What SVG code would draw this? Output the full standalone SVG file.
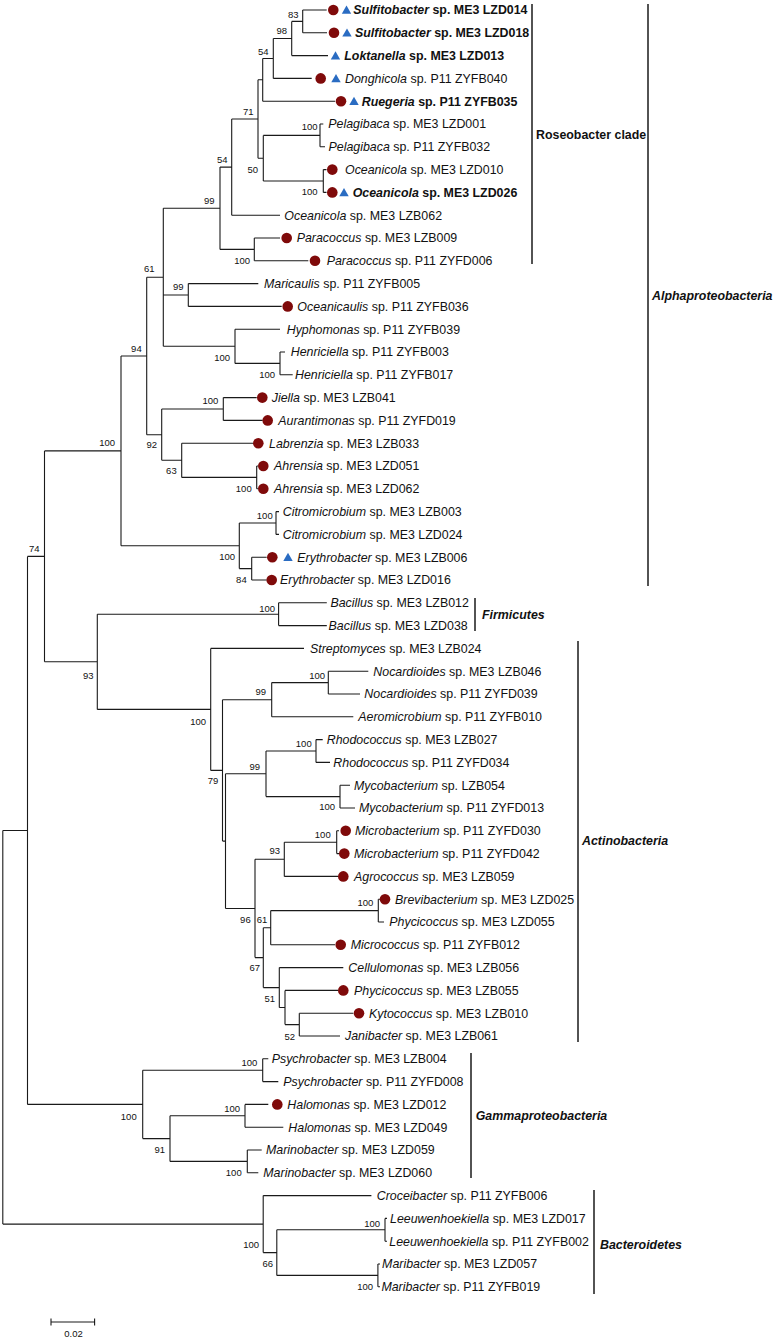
<svg xmlns="http://www.w3.org/2000/svg" xmlns:xlink="http://www.w3.org/1999/xlink" width="774" height="1339" viewBox="0 0 774 1339">
<defs>
<circle id="dot" r="5.3" fill="#7f0a0a"/>
<path id="tri" d="M0,-4.4 L4.7,3.8 L-4.7,3.8Z" fill="#2a6cc2"/>
</defs>
<style>
.br{fill:none;stroke:#1a1a1a;stroke-width:1.1}
.bar{fill:none;stroke:#1a1a1a;stroke-width:1.5}
text{font-family:"Liberation Sans",Arial,Helvetica,sans-serif;fill:#111}
.lf{font-size:12.4px}
.b{font-weight:bold}
.i{font-style:italic}
.bs{font-size:9.5px;text-anchor:end}
.cl{font-size:12.4px;font-weight:bold}
</style>
<rect width="774" height="1339" fill="#fff"/>
<g id="connectors" class="br">
<path d="M2.8,830.5V1224.1 M2.8,830.5H27.5 M27.5,556.4V1104.4 M27.5,556.4H44.5 M44.5,450.9V661.8 M44.5,450.9H121 M121,356V545.8 M121,356H146.7 M146.7,277.3V434.7 M146.7,277.3H163.3 M163.3,208.3V346.3 M163.3,208.3H220 M220,167.1V249.4 M220,167.1H231.7 M231.7,119V215.2 M231.7,119H258 M258,79.8V158.2 M258,79.8H262.7 M262.7,58.5V101.2 M262.7,58.5H273.3 M273.3,38.5V78.4 M273.3,38.5H291.7 M291.7,21.4V55.6 M291.7,21.4H302.7 M302.7,10V32.8 M258,158.2H263.3 M263.3,135.4V181 M263.3,135.4H320 M320,124V146.8 M263.3,181H323.3 M323.3,169.6V192.4 M220,249.4H254.3 M254.3,238V260.8 M163.3,295H188.3 M188.3,283.6V306.4 M163.3,346.3H235 M235,329.2V363.4 M235,363.4H280 M280,352V374.8 M146.7,434.7H161.7 M161.7,409V460.3 M161.7,409H223.3 M223.3,397.6V420.4 M161.7,460.3H181.7 M181.7,443.2V477.4 M181.7,477.4H256.7 M256.7,466V488.8 M121,545.8H239.3 M239.3,523V568.6 M239.3,523H276 M276,511.6V534.4 M239.3,568.6H251.7 M251.7,557.2V580"/>
<path d="M44.5,661.8H97.3 M97.3,614.2V709.4 M97.3,614.2H278.6 M278.6,602.8V625.6 M97.3,709.4H210.7 M210.7,648.4V770.4 M210.7,770.4H222.5 M222.5,699.7V841.1 M222.5,699.7H271.7 M271.7,682.6V716.8 M271.7,682.6H328.3 M328.3,671.2V694 M222.5,841.1H225.5 M225.5,773.8V908.5 M225.5,773.8H266 M266,751V796.6 M266,751H316 M316,739.6V762.4 M266,796.6H340 M340,785.2V808 M225.5,908.5H255 M255,859.3V957.6 M255,859.3H284.3 M284.3,842.2V876.4 M284.3,842.2H336.7 M336.7,830.8V853.6 M255,957.6H263.3 M263.3,927.7V987.6 M263.3,927.7H270.7 M270.7,910.6V944.8 M270.7,910.6H378.3 M378.3,899.2V922 M263.3,987.6H279.3 M279.3,967.6V1007.5 M279.3,1007.5H285 M285,990.4V1024.6 M285,1024.6H299.3 M299.3,1013.2V1036"/>
<path d="M27.5,1104.4H142.7 M142.7,1070.2V1138.6 M142.7,1070.2H262.7 M262.7,1058.8V1081.6 M142.7,1138.6H170 M170,1115.8V1161.4 M170,1115.8H245 M245,1104.4V1127.2 M170,1161.4H247.3 M247.3,1150V1172.8 M2.8,1224.1H263.2 M263.2,1195.6V1252.6 M263.2,1252.6H276.8 M276.8,1229.8V1275.4 M276.8,1229.8H385 M385,1218.4V1241.2 M276.8,1275.4H377.9 M377.9,1264V1286.8"/>
<path d="M302.7,10H326.7 M302.7,32.8H327 M291.7,55.6H328 M273.3,78.4H311.7 M262.7,101.2H335 M320,124H323.3 M320,146.8H325 M323.3,169.6H326.5 M323.3,192.4H326.5 M231.7,215.2H280 M254.3,238H280 M254.3,260.8H308.3 M188.3,283.6H258.3 M188.3,306.4H281.7 M235,329.2H280 M280,352H285 M280,374.8H292.7 M223.3,397.6H256.7 M223.3,420.4H262.7 M181.7,443.2H253.3 M256.7,466H258 M256.7,488.8H258 M276,511.6H279 M276,534.4H279 M251.7,557.2H266.7 M251.7,580H266.7"/>
<path d="M278.6,602.8H326.8 M278.6,625.6H326.8 M210.7,648.4H304 M328.3,671.2H368.3 M328.3,694H360 M271.7,716.8H353.3 M316,739.6H322.7 M316,762.4H330 M340,785.2H350 M340,808H355 M336.7,830.8H339 M336.7,853.6H339 M284.3,876.4H338.3 M378.3,899.2H380 M378.3,922H384 M270.7,944.8H335 M279.3,967.6H343.3 M285,990.4H338.3 M299.3,1013.2H353.3 M299.3,1036H340 M262.7,1058.8H268.3 M262.7,1081.6H278.3 M245,1104.4H268.3 M245,1127.2H283.3 M247.3,1150H261.7 M247.3,1172.8H258.3 M263.2,1195.6H371.4 M385,1218.4H387 M385,1241.2H387 M377.9,1264H380 M377.9,1286.8H380"/>
</g>
<g id="bootstrap" class="bs">
<text x="298.5" y="17.5">83</text>
<text x="287" y="34">98</text>
<text x="268.5" y="55">54</text>
<text x="253.5" y="115">71</text>
<text x="317.5" y="130">100</text>
<text x="258" y="172.5">50</text>
<text x="317.5" y="195">100</text>
<text x="227.5" y="162.5">54</text>
<text x="214.5" y="203.5">99</text>
<text x="250" y="263.5">100</text>
<text x="154.5" y="271.5">61</text>
<text x="183.5" y="290">99</text>
<text x="141.7" y="351.7">94</text>
<text x="230" y="360.5">100</text>
<text x="275" y="377.5">100</text>
<text x="218.3" y="403.5">100</text>
<text x="115" y="445.5">100</text>
<text x="157" y="447.5">92</text>
<text x="176.7" y="474">63</text>
<text x="251.7" y="491.5">100</text>
<text x="272.7" y="518.5">100</text>
<text x="39.5" y="552">74</text>
<text x="235" y="560">100</text>
<text x="246.7" y="582.5">84</text>
<text x="275" y="611.5">100</text>
<text x="93.6" y="679">93</text>
<text x="325" y="678.5">100</text>
<text x="266" y="695">99</text>
<text x="206" y="724.5">100</text>
<text x="311.7" y="746.8">100</text>
<text x="260" y="769.5">99</text>
<text x="218.3" y="784">79</text>
<text x="335" y="810">100</text>
<text x="330.7" y="837.5">100</text>
<text x="280" y="854">93</text>
<text x="373.3" y="906">100</text>
<text x="250.7" y="922.8">96</text>
<text x="267.3" y="922.8">61</text>
<text x="260" y="970.8">67</text>
<text x="275" y="1001.8">51</text>
<text x="295" y="1040">52</text>
<text x="257.3" y="1065.8">100</text>
<text x="240" y="1111.5">100</text>
<text x="136.7" y="1119.5">100</text>
<text x="165" y="1152.5">91</text>
<text x="241.7" y="1175.8">100</text>
<text x="380" y="1227">100</text>
<text x="259" y="1248">100</text>
<text x="273" y="1267">66</text>
<text x="373" y="1290">100</text>
</g>
<g id="leaf-LZD014"><use href="#dot" x="333.3" y="10"/><use href="#tri" x="346.5" y="10"/><text class="lf b" x="353.3" y="14.4"><tspan class="i">Sulfitobacter</tspan> sp. ME3 LZD014</text></g>
<g id="leaf-LZD018"><use href="#dot" x="334" y="32.8"/><use href="#tri" x="347" y="32.8"/><text class="lf b" x="355" y="37.2"><tspan class="i">Sulfitobacter</tspan> sp. ME3 LZD018</text></g>
<g id="leaf-LZD013"><use href="#tri" x="335.5" y="55.6"/><text class="lf b" x="344.3" y="60"><tspan class="i">Loktanella</tspan> sp. ME3 LZD013</text></g>
<g id="leaf-ZYFB040"><use href="#dot" x="320.7" y="78.4"/><use href="#tri" x="336" y="78.4"/><text class="lf" x="345" y="82.8"><tspan class="i">Donghicola</tspan> sp. P11 ZYFB040</text></g>
<g id="leaf-ZYFB035"><use href="#dot" x="341" y="101.2"/><use href="#tri" x="354" y="101.2"/><text class="lf b" x="361.7" y="105.6"><tspan class="i">Ruegeria</tspan> sp. P11 ZYFB035</text></g>
<g id="leaf-LZD001"><text class="lf" x="328.3" y="128.4"><tspan class="i">Pelagibaca</tspan> sp. ME3 LZD001</text></g>
<g id="leaf-ZYFB032"><text class="lf" x="328.5" y="151.2"><tspan class="i">Pelagibaca</tspan> sp. P11 ZYFB032</text></g>
<g id="leaf-LZD010"><use href="#dot" x="332.3" y="169.6"/><text class="lf" x="345" y="174"><tspan class="i">Oceanicola</tspan> sp. ME3 LZD010</text></g>
<g id="leaf-LZD026"><use href="#dot" x="332.3" y="192.4"/><use href="#tri" x="344" y="192.4"/><text class="lf b" x="352.7" y="196.8"><tspan class="i">Oceanicola</tspan> sp. ME3 LZD026</text></g>
<g id="leaf-LZB062"><text class="lf" x="284.3" y="219.6"><tspan class="i">Oceanicola</tspan> sp. ME3 LZB062</text></g>
<g id="leaf-LZB009"><use href="#dot" x="286.7" y="238"/><text class="lf" x="296.7" y="242.4"><tspan class="i">Paracoccus</tspan> sp. ME3 LZB009</text></g>
<g id="leaf-ZYFD006"><use href="#dot" x="315" y="260.8"/><text class="lf" x="326.7" y="265.2"><tspan class="i">Paracoccus</tspan> sp. P11 ZYFD006</text></g>
<g id="leaf-ZYFB005"><text class="lf" x="264" y="288"><tspan class="i">Maricaulis</tspan> sp. P11 ZYFB005</text></g>
<g id="leaf-ZYFB036"><use href="#dot" x="287.7" y="306.4"/><text class="lf" x="297.3" y="310.8"><tspan class="i">Oceanicaulis</tspan> sp. P11 ZYFB036</text></g>
<g id="leaf-ZYFB039"><text class="lf" x="286.7" y="333.6"><tspan class="i">Hyphomonas</tspan> sp. P11 ZYFB039</text></g>
<g id="leaf-ZYFB003"><text class="lf" x="290.7" y="356.4"><tspan class="i">Henriciella</tspan> sp. P11 ZYFB003</text></g>
<g id="leaf-ZYFB017"><text class="lf" x="295" y="379.2"><tspan class="i">Henriciella</tspan> sp. P11 ZYFB017</text></g>
<g id="leaf-LZB041"><use href="#dot" x="262.3" y="397.6"/><text class="lf" x="271.7" y="402"><tspan class="i">Jiella</tspan> sp. ME3 LZB041</text></g>
<g id="leaf-ZYFD019"><use href="#dot" x="267.7" y="420.4"/><text class="lf" x="278.3" y="424.8"><tspan class="i">Aurantimonas</tspan> sp. P11 ZYFD019</text></g>
<g id="leaf-LZB033"><use href="#dot" x="258.3" y="443.2"/><text class="lf" x="269" y="447.6"><tspan class="i">Labrenzia</tspan> sp. ME3 LZB033</text></g>
<g id="leaf-LZD051"><use href="#dot" x="263.3" y="466"/><text class="lf" x="274" y="470.4"><tspan class="i">Ahrensia</tspan> sp. ME3 LZD051</text></g>
<g id="leaf-LZD062"><use href="#dot" x="263.3" y="488.8"/><text class="lf" x="274" y="493.2"><tspan class="i">Ahrensia</tspan> sp. ME3 LZD062</text></g>
<g id="leaf-LZB003"><text class="lf" x="282.7" y="516"><tspan class="i">Citromicrobium</tspan> sp. ME3 LZB003</text></g>
<g id="leaf-LZD024"><text class="lf" x="282.7" y="538.8"><tspan class="i">Citromicrobium</tspan> sp. ME3 LZD024</text></g>
<g id="leaf-LZB006"><use href="#dot" x="272.3" y="557.2"/><use href="#tri" x="288" y="557.2"/><text class="lf" x="297.3" y="561.6"><tspan class="i">Erythrobacter</tspan> sp. ME3 LZB006</text></g>
<g id="leaf-LZD016"><use href="#dot" x="271.7" y="580"/><text class="lf" x="280" y="584.4"><tspan class="i">Erythrobacter</tspan> sp. ME3 LZD016</text></g>
<g id="leaf-LZB012"><text class="lf" x="330.4" y="607.2"><tspan class="i">Bacillus</tspan> sp. ME3 LZB012</text></g>
<g id="leaf-LZD038"><text class="lf" x="328.6" y="630"><tspan class="i">Bacillus</tspan> sp. ME3 LZD038</text></g>
<g id="leaf-LZB024"><text class="lf" x="310" y="652.8"><tspan class="i">Streptomyces</tspan> sp. ME3 LZB024</text></g>
<g id="leaf-LZB046"><text class="lf" x="373.3" y="675.6"><tspan class="i">Nocardioides</tspan> sp. ME3 LZB046</text></g>
<g id="leaf-ZYFD039"><text class="lf" x="364.3" y="698.4"><tspan class="i">Nocardioides</tspan> sp. P11 ZYFD039</text></g>
<g id="leaf-ZYFB010"><text class="lf" x="358.3" y="721.2"><tspan class="i">Aeromicrobium</tspan> sp. P11 ZYFB010</text></g>
<g id="leaf-LZB027"><text class="lf" x="326.7" y="744"><tspan class="i">Rhodococcus</tspan> sp. ME3 LZB027</text></g>
<g id="leaf-ZYFD034"><text class="lf" x="333.3" y="766.8"><tspan class="i">Rhodococcus</tspan> sp. P11 ZYFD034</text></g>
<g id="leaf-LZB054"><text class="lf" x="354" y="789.6"><tspan class="i">Mycobacterium</tspan> sp. LZB054</text></g>
<g id="leaf-ZYFD013"><text class="lf" x="359" y="812.4"><tspan class="i">Mycobacterium</tspan> sp. P11 ZYFD013</text></g>
<g id="leaf-ZYFD030"><use href="#dot" x="345.7" y="830.8"/><text class="lf" x="355" y="835.2"><tspan class="i">Microbacterium</tspan> sp. P11 ZYFD030</text></g>
<g id="leaf-ZYFD042"><use href="#dot" x="344.3" y="853.6"/><text class="lf" x="354" y="858"><tspan class="i">Microbacterium</tspan> sp. P11 ZYFD042</text></g>
<g id="leaf-LZB059"><use href="#dot" x="343.3" y="876.4"/><text class="lf" x="354" y="880.8"><tspan class="i">Agrococcus</tspan> sp. ME3 LZB059</text></g>
<g id="leaf-LZD025"><use href="#dot" x="385" y="899.2"/><text class="lf" x="395" y="903.6"><tspan class="i">Brevibacterium</tspan> sp. ME3 LZD025</text></g>
<g id="leaf-LZD055"><text class="lf" x="389.3" y="926.4"><tspan class="i">Phycicoccus</tspan> sp. ME3 LZD055</text></g>
<g id="leaf-ZYFB012"><use href="#dot" x="340.7" y="944.8"/><text class="lf" x="350.7" y="949.2"><tspan class="i">Micrococcus</tspan> sp. P11 ZYFB012</text></g>
<g id="leaf-LZB056"><text class="lf" x="348.3" y="972"><tspan class="i">Cellulomonas</tspan> sp. ME3 LZB056</text></g>
<g id="leaf-LZB055"><use href="#dot" x="343.3" y="990.4"/><text class="lf" x="354" y="994.8"><tspan class="i">Phycicoccus</tspan> sp. ME3 LZB055</text></g>
<g id="leaf-LZB010"><use href="#dot" x="359" y="1013.2"/><text class="lf" x="369" y="1017.6"><tspan class="i">Kytococcus</tspan> sp. ME3 LZB010</text></g>
<g id="leaf-LZB061"><text class="lf" x="345" y="1040.4"><tspan class="i">Janibacter</tspan> sp. ME3 LZB061</text></g>
<g id="leaf-LZB004"><text class="lf" x="271.7" y="1063.2"><tspan class="i">Psychrobacter</tspan> sp. ME3 LZB004</text></g>
<g id="leaf-ZYFD008"><text class="lf" x="283.3" y="1086"><tspan class="i">Psychrobacter</tspan> sp. P11 ZYFD008</text></g>
<g id="leaf-LZD012"><use href="#dot" x="277.3" y="1104.4"/><text class="lf" x="287.3" y="1108.8"><tspan class="i">Halomonas</tspan> sp. ME3 LZD012</text></g>
<g id="leaf-LZD049"><text class="lf" x="288.3" y="1131.6"><tspan class="i">Halomonas</tspan> sp. ME3 LZD049</text></g>
<g id="leaf-LZD059"><text class="lf" x="266" y="1154.4"><tspan class="i">Marinobacter</tspan> sp. ME3 LZD059</text></g>
<g id="leaf-LZD060"><text class="lf" x="263.3" y="1177.2"><tspan class="i">Marinobacter</tspan> sp. ME3 LZD060</text></g>
<g id="leaf-ZYFB006"><text class="lf" x="376.8" y="1200"><tspan class="i">Croceibacter</tspan> sp. P11 ZYFB006</text></g>
<g id="leaf-LZD017"><text class="lf" x="390" y="1222.8"><tspan class="i">Leeuwenhoekiella</tspan> sp. ME3 LZD017</text></g>
<g id="leaf-ZYFB002"><text class="lf" x="389.3" y="1245.6"><tspan class="i">Leeuwenhoekiella</tspan> sp. P11 ZYFB002</text></g>
<g id="leaf-LZD057"><text class="lf" x="382.1" y="1268.4"><tspan class="i">Maribacter</tspan> sp. ME3 LZD057</text></g>
<g id="leaf-ZYFB019"><text class="lf" x="381.4" y="1291.2"><tspan class="i">Maribacter</tspan> sp. P11 ZYFB019</text></g>
<g id="clade-roseobacter"><path class="bar" d="M532,4V264"/><text class="cl" x="536" y="139">Roseobacter clade</text></g>
<g id="clade-alpha"><path class="bar" d="M648,4V586"/><text class="cl i" x="652" y="300">Alphaproteobacteria</text></g>
<g id="clade-firmicutes"><path class="bar" d="M475,598V631"/><text class="cl i" x="482" y="619">Firmicutes</text></g>
<g id="clade-actino"><path class="bar" d="M578,641V1042"/><text class="cl i" x="582" y="845">Actinobacteria</text></g>
<g id="clade-gamma"><path class="bar" d="M471,1053V1178"/><text class="cl i" x="475.7" y="1120">Gammaproteobacteria</text></g>
<g id="clade-bacteroidetes"><path class="bar" d="M594,1190V1294"/><text class="cl i" x="600" y="1249">Bacteroidetes</text></g>
<g id="scalebar"><path class="br" d="M51,1322H94.6 M51,1318.5V1325.5 M94.6,1318.5V1325.5"/><text class="bs" x="82.8" y="1337" style="text-anchor:end">0.02</text></g>
</svg>
